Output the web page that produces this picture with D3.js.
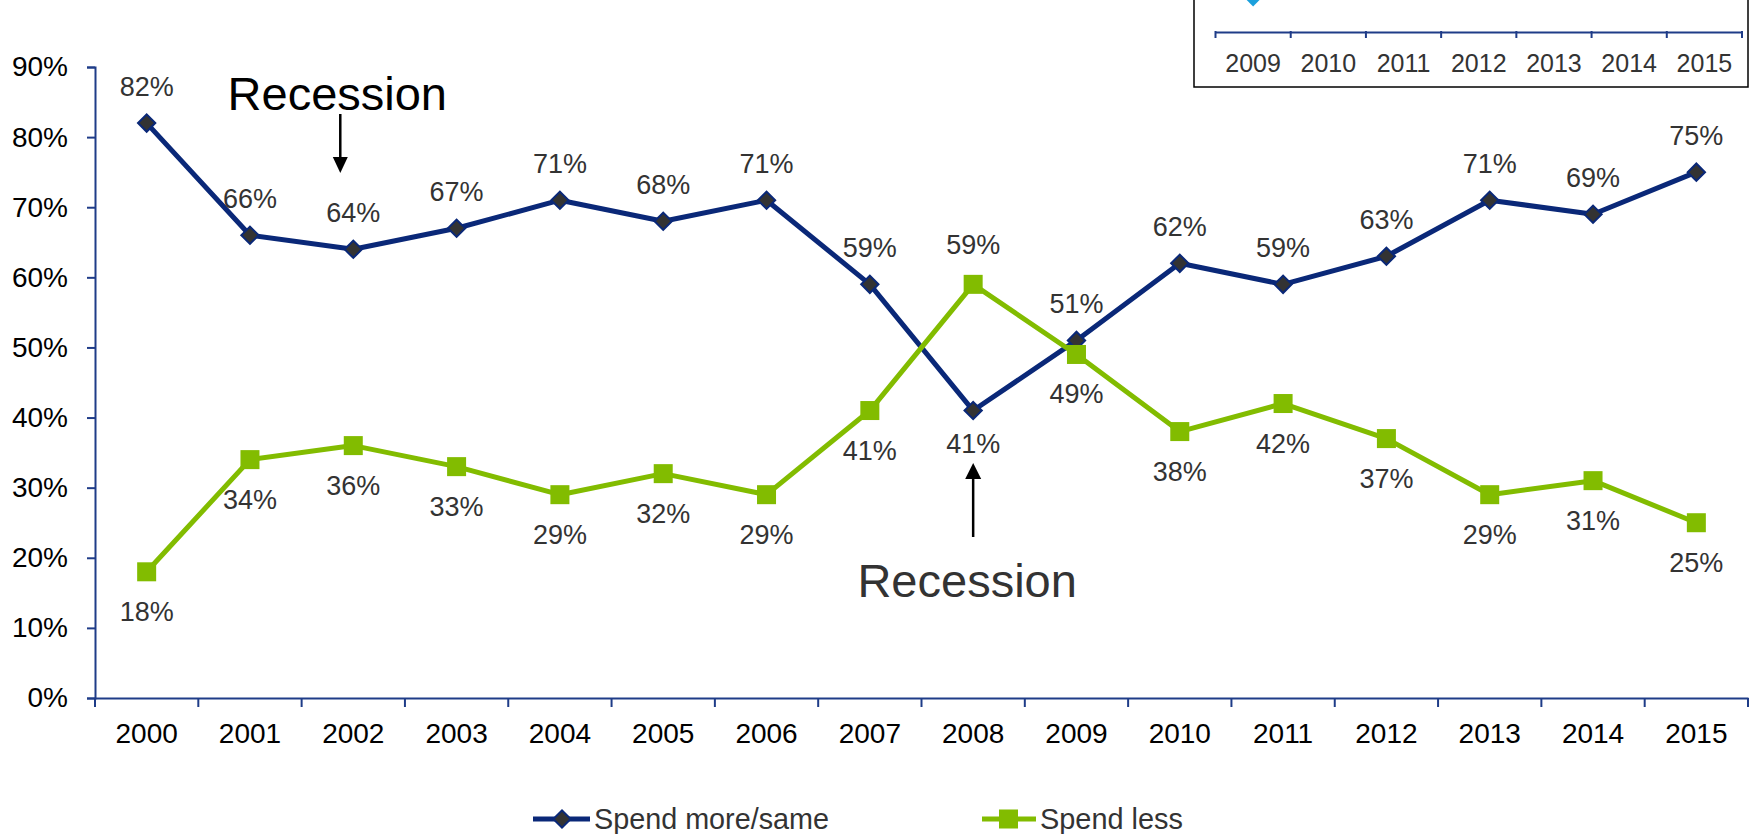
<!DOCTYPE html>
<html>
<head>
<meta charset="utf-8">
<script src="https://cdn.jsdelivr.net/npm/d3@7"></script>
<style>
  html, body { margin: 0; padding: 0; background: #fff; }
  svg { display: block; font-family: "Liberation Sans", Arial, Helvetica, sans-serif; }
</style>
</head>
<body>
<svg id="chart" width="1754" height="834"></svg>
<script>
// ---- data ----
const years = ["2000","2001","2002","2003","2004","2005","2006","2007","2008","2009","2010","2011","2012","2013","2014","2015"];
const spendMoreSame = [0.82,0.66,0.64,0.67,0.71,0.68,0.71,0.59,0.41,0.51,0.62,0.59,0.63,0.71,0.69,0.75];
const spendLess     = [0.18,0.34,0.36,0.33,0.29,0.32,0.29,0.41,0.59,0.49,0.38,0.42,0.37,0.29,0.31,0.25];
const yTicks = [0,0.1,0.2,0.3,0.4,0.5,0.6,0.7,0.8,0.9];
const seriesNames = ["Spend more/same","Spend less"];
const insetYears = ["2009","2010","2011","2012","2013","2014","2015"];
const recessionYears = ["2002","2008"];
const annotationText = "Recession";

// ---- styles ----
const BLUE = "#0A2878", GREEN = "#82BC00", AXIS = "#1F3C88", LABEL = "#333333";

const svg = d3.select("#chart");

const x = d3.scaleBand().domain(years).range([95, 1748]);
const y = d3.scaleLinear().domain([0, 0.9]).range([698, 67]);
const cx = d => x(d) + x.bandwidth() / 2;

// ---- Y axis ----
const yAxis = svg.append("g").attr("transform", "translate(95,0)")
  .call(d3.axisLeft(y).tickValues(yTicks).tickFormat(d3.format(".0%")).tickSize(8).tickPadding(19));
yAxis.select(".domain").attr("stroke", AXIS).attr("stroke-width", 2);
yAxis.selectAll(".tick line").attr("stroke", AXIS).attr("stroke-width", 2);
yAxis.selectAll(".tick text").attr("fill", "#000").attr("font-size", 28)
  .attr("font-family", "Liberation Sans, Arial, sans-serif");

// ---- X axis ----
const xAxis = svg.append("g").attr("transform", "translate(0,698)")
  .call(d3.axisBottom(x).tickSize(0).tickSizeOuter(0));
xAxis.select(".domain").attr("stroke", AXIS).attr("stroke-width", 2);
xAxis.selectAll(".tick text").attr("fill", "#000").attr("font-size", 28)
  .attr("font-family", "Liberation Sans, Arial, sans-serif")
  .attr("y", 45).attr("dy", 0);
const bounds = years.map(d => x(d)).concat([x.range()[1]]);
xAxis.selectAll("line.btick").data(bounds).enter().append("line")
  .attr("class", "btick").attr("x1", d => d).attr("x2", d => d)
  .attr("y1", 0).attr("y2", 9).attr("stroke", AXIS).attr("stroke-width", 2);

// ---- lines ----
const line = d3.line().x((d, i) => cx(years[i])).y(d => y(d));
svg.append("path").datum(spendMoreSame).attr("d", line)
  .attr("fill", "none").attr("stroke", BLUE).attr("stroke-width", 5).attr("stroke-linejoin", "round");
svg.selectAll("path.dia").data(spendMoreSame).enter().append("path")
  .attr("class", "dia")
  .attr("d", d3.symbol().type(d3.symbolSquare).size(150))
  .attr("transform", (d, i) => `translate(${cx(years[i])},${y(d)}) rotate(45)`)
  .attr("fill", "#333").attr("stroke", BLUE).attr("stroke-width", 2);

svg.append("path").datum(spendLess).attr("d", line)
  .attr("fill", "none").attr("stroke", GREEN).attr("stroke-width", 5).attr("stroke-linejoin", "round");
svg.selectAll("rect.sq").data(spendLess).enter().append("rect")
  .attr("class", "sq")
  .attr("x", (d, i) => cx(years[i]) - 9.5).attr("y", d => y(d) - 9.5)
  .attr("width", 19).attr("height", 19).attr("fill", GREEN);

// ---- data labels ----
const fmt = d3.format(".0%");
svg.selectAll("text.lb").data(spendMoreSame).enter().append("text")
  .attr("class", "lb").attr("text-anchor", "middle").attr("font-size", 27).attr("fill", LABEL)
  .attr("x", (d, i) => cx(years[i]))
  .attr("y", (d, i) => d >= spendLess[i] ? y(d) - 27 : y(d) + 42)
  .text(d => fmt(d));
svg.selectAll("text.lg").data(spendLess).enter().append("text")
  .attr("class", "lg").attr("text-anchor", "middle").attr("font-size", 27).attr("fill", LABEL)
  .attr("x", (d, i) => cx(years[i]))
  .attr("y", (d, i) => d > spendMoreSame[i] ? y(d) - 30 : y(d) + 49)
  .text(d => fmt(d));

// ---- recession annotations ----
// top (2002): text above, arrow pointing down
const rx1 = cx(recessionYears[0]) - 16;
svg.append("text").attr("x", rx1).attr("y", 110).attr("text-anchor", "middle")
  .attr("font-size", 47).attr("fill", "#000").text(annotationText);
svg.append("line").attr("x1", rx1 + 3).attr("x2", rx1 + 3).attr("y1", 114).attr("y2", 158)
  .attr("stroke", "#000").attr("stroke-width", 2.5);
svg.append("path").attr("d", `M${rx1 - 4.5},157 L${rx1 + 10.5},157 L${rx1 + 3},173 Z`).attr("fill", "#000");

// bottom (2008): arrow pointing up, text below
const rx2 = cx(recessionYears[1]);
svg.append("line").attr("x1", rx2).attr("x2", rx2).attr("y1", 537).attr("y2", 476)
  .attr("stroke", "#000").attr("stroke-width", 2.5);
svg.append("path").attr("d", `M${rx2 - 8},479 L${rx2 + 8},479 L${rx2},463 Z`).attr("fill", "#000");
svg.append("text").attr("x", rx2 - 6).attr("y", 597).attr("text-anchor", "middle")
  .attr("font-size", 47).attr("fill", "#333").text(annotationText);

// ---- legend ----
const lg = svg.append("g");
lg.append("line").attr("x1", 533).attr("x2", 590).attr("y1", 819).attr("y2", 819)
  .attr("stroke", BLUE).attr("stroke-width", 5);
lg.append("path").attr("d", d3.symbol().type(d3.symbolSquare).size(150))
  .attr("transform", "translate(562,819) rotate(45)").attr("fill", "#333").attr("stroke", BLUE).attr("stroke-width", 2);
lg.append("text").attr("x", 594).attr("y", 829).attr("font-size", 30).attr("fill", LABEL)
  .attr("textLength", 235).attr("lengthAdjust", "spacingAndGlyphs").text(seriesNames[0]);
lg.append("line").attr("x1", 982).attr("x2", 1036).attr("y1", 819).attr("y2", 819)
  .attr("stroke", GREEN).attr("stroke-width", 5);
lg.append("rect").attr("x", 999).attr("y", 809.5).attr("width", 19).attr("height", 19).attr("fill", GREEN);
lg.append("text").attr("x", 1040).attr("y", 829).attr("font-size", 30).attr("fill", LABEL)
  .attr("textLength", 143).attr("lengthAdjust", "spacingAndGlyphs").text(seriesNames[1]);

// ---- inset (top-right, cropped) ----
const ix = d3.scaleBand().domain(insetYears).range([1215.5, 1742]);
const inset = svg.append("g");
inset.append("rect").attr("x", 1194).attr("y", -5).attr("width", 554).attr("height", 92)
  .attr("fill", "#fff").attr("stroke", "#000").attr("stroke-width", 1.5);
inset.append("path")
  .attr("d", d3.symbol().type(d3.symbolSquare).size(260))
  .attr("transform", `translate(${ix(insetYears[0]) + ix.bandwidth() / 2},-5) rotate(45)`)
  .attr("fill", "#1BA0DC");
const iAxis = inset.append("g").attr("transform", "translate(0,32)")
  .call(d3.axisBottom(ix).tickSize(0).tickSizeOuter(0));
iAxis.select(".domain").attr("stroke", AXIS).attr("stroke-width", 2);
iAxis.selectAll(".tick text").attr("fill", LABEL).attr("font-size", 25)
  .attr("font-family", "Liberation Sans, Arial, sans-serif").attr("y", 40).attr("dy", 0);
const ib = insetYears.map(d => ix(d)).concat([ix.range()[1]]);
iAxis.selectAll("line.ib").data(ib).enter().append("line")
  .attr("x1", d => d).attr("x2", d => d).attr("y1", -1).attr("y2", 6)
  .attr("stroke", AXIS).attr("stroke-width", 2);
</script>
</body>
</html>
